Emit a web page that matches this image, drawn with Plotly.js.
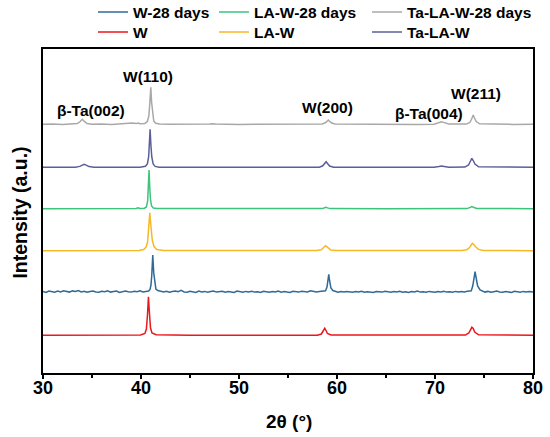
<!DOCTYPE html>
<html>
<head>
<meta charset="utf-8">
<script src="https://cdn.plot.ly/plotly-3.0.1.min.js"></script>
<style>
html, body { margin: 0; padding: 0; background: #fff; }
#chart { width: 550px; height: 437px; }
</style>
</head>
<body>
<div id="chart"></div>
<script>
// ---- Data (2θ in degrees, intensity in a.u., curves stacked) ----
const seriesNames = ["W-28 days", "LA-W-28 days", "Ta-LA-W-28 days", "W", "LA-W", "Ta-LA-W"];
const seriesColors = ["#2f6a98", "#3cc47b", "#a8a8a8", "#e8181e", "#f7b825", "#5c5e98"];

// W-28 days (noisy)
const xW28 = [30.0, 30.3, 30.6, 30.9, 31.2, 31.5, 31.8, 32.1, 32.4, 32.7, 33.0, 33.3, 33.6, 33.9, 34.2, 34.5, 34.8, 35.1, 35.4, 35.7,
  36.0, 36.3, 36.6, 36.9, 37.2, 37.5, 37.8, 38.1, 38.4, 38.7, 39.0, 39.3, 39.6, 39.9, 40.2, 40.5,
  40.78, 40.92, 41.02, 41.1, 41.2, 41.3, 41.4, 41.52, 41.72, 42.0,
  42.3, 42.6, 42.9, 43.2, 43.5, 43.8, 44.1, 44.4, 44.7, 45.0, 45.3, 45.6, 45.9, 46.2, 46.5, 46.8, 47.1, 47.4, 47.7, 48.0,
  48.3, 48.6, 48.9, 49.2, 49.5, 49.8, 50.1, 50.4, 50.7, 51.0, 51.3, 51.6, 51.9, 52.2, 52.5, 52.8, 53.1, 53.4, 53.7, 54.0,
  54.3, 54.6, 54.9, 55.2, 55.5, 55.8, 56.1, 56.4, 56.7, 57.0, 57.3, 57.6, 57.9, 58.2, 58.5,
  58.83, 58.98, 59.08, 59.16, 59.25, 59.38, 59.58, 59.85,
  60.1, 60.4, 60.7, 61.0, 61.3, 61.6, 61.9, 62.2, 62.5, 62.8, 63.1, 63.4, 63.7, 64.0, 64.3, 64.6, 64.9, 65.2, 65.5, 65.8,
  66.1, 66.4, 66.7, 67.0, 67.3, 67.6, 67.9, 68.2, 68.5, 68.8, 69.1, 69.4, 69.7, 70.0, 70.3, 70.6, 70.9, 71.2, 71.5, 71.8,
  72.1, 72.4, 72.7, 73.0, 73.3,
  73.7, 73.85, 73.95, 74.09, 74.2, 74.35, 74.6, 74.9,
  75.1, 75.4, 75.7, 76.0, 76.3, 76.6, 76.9, 77.2, 77.5, 77.8, 78.1, 78.4, 78.7, 79.0, 79.3, 79.6, 80.0];
const yW28 = [81.5, 80.6, 82.0, 81.2, 80.8, 81.9, 81.0, 82.3, 81.4, 80.9, 82.1, 81.6, 82.4, 81.0, 81.8, 80.7, 81.5, 82.0, 81.1, 80.8,
  81.7, 81.3, 82.2, 80.9, 81.4, 81.9, 80.6, 81.6, 82.0, 81.2, 80.9, 81.8, 81.3, 82.1, 81.0, 81.5,
  82.0, 83.5, 88.0, 98.0, 118.0, 100.0, 89.0, 84.0, 82.5, 81.6,
  81.0, 81.8, 80.7, 81.5, 82.0, 81.2, 82.6, 81.1, 80.8, 81.7, 81.3, 80.6, 81.9, 81.0, 81.6, 80.8, 81.4, 82.0, 80.9, 81.3,
  81.8, 80.7, 81.5, 81.1, 80.6, 81.9, 81.2, 80.8, 81.6, 81.0, 81.7, 80.9, 81.3, 80.6, 81.8, 81.1, 80.7, 81.5, 81.0, 81.9,
  80.8, 81.4, 81.1, 80.6, 81.7, 81.2, 80.9, 81.8, 81.3, 81.0, 82.3, 81.2, 80.9, 81.5, 81.7,
  82.2, 86.0, 92.0, 98.7, 92.0, 85.0, 82.5, 81.4,
  80.8, 81.4, 80.9, 81.6, 81.1, 80.7, 81.5, 81.0, 81.8, 80.8, 81.3, 81.0, 80.6, 81.5, 81.2, 80.9, 81.7, 81.0, 80.7, 81.4,
  81.1, 81.8, 80.8, 81.3, 80.6, 81.5, 81.0, 81.9, 80.9, 81.2, 80.7, 81.6, 81.1, 80.8, 81.5, 81.0, 81.7, 80.9, 81.3, 80.8,
  81.6, 81.0, 81.4, 81.1, 81.8,
  82.3, 87.0, 94.0, 101.3, 95.0, 87.0, 83.0, 81.5,
  80.9, 81.6, 80.7, 81.3, 81.9, 81.0, 80.8, 81.5, 81.1, 80.6, 81.7, 81.2, 80.8, 81.6, 80.9, 81.4, 81.0];

// LA-W-28 days
const xLAW28 = [30, 36, 39.5, 39.7, 39.9, 40.35, 40.55, 40.68, 40.76, 40.82, 40.89, 40.96, 41.08, 41.26, 41.66, 48, 55,
  58.5, 58.74, 58.89, 59.04, 59.3, 65, 73.25, 73.6, 73.76, 73.92, 74.25, 80];
const yLAW28 = [164.3, 164.3, 164.5, 165.2, 164.6, 164.8, 166, 172, 185, 203, 186, 174, 167, 165, 164.4, 164.3, 164.3,
  164.4, 165.2, 165.7, 165.1, 164.4, 164.3, 164.4, 165.6, 166.5, 165.8, 164.5, 164.3];

// Ta-LA-W-28 days
const xTaLAW28 = [30, 31.0, 32.0, 33.0, 33.5, 33.8, 34.0, 34.2, 34.5, 35.0, 36.0, 37.0, 38.0, 38.6, 38.8, 39.1, 39.5, 39.7, 39.9, 40.4,
  40.65, 40.8, 40.9, 41.0, 41.08, 41.18, 41.3, 41.5, 41.9, 43, 45, 47, 47.3, 47.6, 50, 53, 56, 58.5, 58.85, 59.0,
  59.12, 59.24, 59.45, 59.8, 62, 65, 68, 69.9, 70.35, 70.66, 70.95, 71.4, 73.2, 73.55, 73.74, 73.9, 74.03, 74.2, 74.55, 76, 78, 80];
const yTaLAW28 = [248.7, 249.0, 248.5, 248.9, 249.4, 251.5, 253.7, 251.8, 249.5, 248.8, 249.1, 248.6, 249.0, 249.8, 249.3, 249.9, 249.4, 250.0, 249.2, 249.6,
  251.5, 257, 270, 285.7, 271, 258, 252, 249.7, 249.0, 248.8, 248.6, 249.0, 249.3, 248.9, 248.6, 248.9, 248.7, 249.0, 250.5, 252,
  253, 251.8, 250, 249.0, 248.7, 248.9, 248.6, 248.8, 250.3, 251.3, 250.4, 249.0, 248.9, 250.5, 254, 258, 255, 251.5, 249.2, 248.8, 248.6, 248.7];

// W
const xW = [30, 36, 39.95, 40.4, 40.55, 40.66, 40.76, 40.86, 40.97, 41.12, 41.55, 45, 50, 55, 58.0, 58.4, 58.58, 58.75, 58.88, 59.02, 59.4,
  65, 70, 73.1, 73.45, 73.6, 73.76, 73.9, 74.05, 74.45, 80];
const yW = [37.7, 37.7, 38.0, 39.5, 44, 58, 76.3, 60, 45, 40, 38.2, 37.7, 37.7, 37.7, 37.8, 39, 42, 44.7, 42.5, 39.5, 38,
  37.7, 37.7, 37.9, 40, 43, 45.7, 44.5, 41, 38.2, 37.7];

// LA-W
const xLAW = [30, 36, 39.8, 40.27, 40.52, 40.67, 40.79, 40.9, 41.02, 41.15, 41.32, 41.62, 42.3, 50,
  57.9, 58.4, 58.57, 58.72, 58.82, 58.95, 59.12, 59.37, 59.85, 66,
  72.75, 73.25, 73.5, 73.68, 73.82, 73.96, 74.15, 74.45, 74.95, 80];
const yLAW = [122.3, 122.3, 122.5, 123.5, 126, 131, 145, 160.3, 146, 133, 126.5, 123.5, 122.6, 122.3,
  122.4, 123.2, 124.5, 126.3, 127.3, 126.4, 124.6, 123.0, 122.4, 122.3,
  122.4, 123.3, 125.2, 127.8, 129.7, 128.5, 126, 123.6, 122.5, 122.3];

// Ta-LA-W
const xTaLAW = [30, 33.3, 33.75, 34.0, 34.2, 34.4, 34.7, 35.2, 39.9, 40.45, 40.65, 40.78, 40.86, 40.93, 41.01, 41.1, 41.24, 41.45, 41.85, 50,
  58.2, 58.55, 58.74, 58.89, 59.03, 59.25, 59.65, 69.9, 70.4, 70.66, 70.95, 71.4, 73.05, 73.42, 73.6, 73.76, 73.9, 74.08, 74.45, 80];
const yTaLAW = [205.7, 205.8, 206.6, 208.0, 208.7, 207.9, 206.4, 205.8, 205.8, 206.8, 209, 216, 228, 243.7, 228, 216, 209, 206.6, 205.8, 205.7,
  205.8, 207.2, 209.6, 211.3, 209.5, 207, 205.8, 205.7, 206.5, 207, 206.5, 205.7, 205.9, 208, 211.5, 214.7, 212.5, 209, 206.2, 205.7];

// Peak labels
const peakLabels = ["β-Ta(002)", "W(110)", "W(200)", "β-Ta(004)", "W(211)"];
const peakLabelX = [34.9, 40.71, 59.03, 69.34, 74.18];
const peakLabelY = [263, 297, 265.5, 260, 279.7];

const xTickVals = [30, 40, 50, 60, 70, 80];
const xTickText = ["30", "40", "50", "60", "70", "80"];
const xTitle = "2θ (°)";
const yTitle = "Intensity (a.u.)";

// ---- Build figure ----
const FONT = "'Liberation Sans', Arial, sans-serif";
const xs = [xW28, xLAW28, xTaLAW28, xW, xLAW, xTaLAW];
const ys = [yW28, yLAW28, yTaLAW28, yW, yLAW, yTaLAW];
const legendIds = ["legend", "legend2", "legend3", "legend4", "legend5", "legend6"];

const traces = seriesNames.map((n, i) => ({
  type: "scatter", mode: "lines", name: n,
  x: xs[i], y: ys[i],
  line: { color: seriesColors[i], width: 1.5 },
  legend: legendIds[i], showlegend: true
}));

// legend placement (pixels in the 550x437 container)
const legX = [93, 214, 367, 93, 214, 367];
const legY = [12.5, 12.5, 12.5, 32.5, 32.5, 32.5];

const annotations = peakLabels.map((t, i) => ({
  text: t, x: peakLabelX[i], y: peakLabelY[i], xref: "x", yref: "y",
  showarrow: false, xanchor: "center", yanchor: "middle",
  font: { family: FONT, size: 15.5, weight: "bold", color: "#000" }
}));
annotations.push({
  text: yTitle, textangle: -90, xref: "paper", yref: "paper",
  x: -0.047, y: 0.495, xanchor: "center", yanchor: "middle", showarrow: false,
  font: { family: FONT, size: 19.5, weight: "bold", color: "#000" }
});
annotations.push({
  text: xTitle, xref: "paper", yref: "paper",
  x: 0.502, y: -0.150, xanchor: "center", yanchor: "middle", showarrow: false,
  font: { family: FONT, size: 19, weight: "bold", color: "#000" }
});

const layout = {
  width: 550, height: 437,
  margin: { l: 43, r: 17, t: 49, b: 64, autoexpand: false },
  paper_bgcolor: "#ffffff", plot_bgcolor: "#ffffff",
  font: { family: FONT, color: "#000" },
  showlegend: true,
  xaxis: {
    range: [30, 80], tickvals: xTickVals, ticktext: xTickText,
    ticks: "outside", ticklen: 4, tickwidth: 1.5, tickcolor: "#000",
    ticklabelstandoff: -7,
    minor: { dtick: 5, tick0: 30, ticks: "outside", ticklen: 2.5, tickwidth: 1.2, tickcolor: "#000" },
    showline: true, linewidth: 2, linecolor: "#000", mirror: true,
    showgrid: false, zeroline: false,
    tickfont: { family: FONT, size: 18, weight: "bold", color: "#000" },
    automargin: false
  },
  yaxis: {
    range: [0, 324], showticklabels: false, ticks: "",
    showline: true, linewidth: 2, linecolor: "#000", mirror: true,
    showgrid: false, zeroline: false,
    automargin: false
  },
  annotations: annotations
};

legendIds.forEach((id, i) => {
  layout[id] = {
    x: legX[i] / 550, y: 1 - legY[i] / 437,
    xref: "container", yref: "container",
    xanchor: "left", yanchor: "middle",
    orientation: "v", bgcolor: "rgba(0,0,0,0)", borderwidth: 0,
    font: { family: FONT, size: 15.5, weight: "bold", color: "#000" },
    itemwidth: 30
  };
});

Plotly.newPlot("chart", traces, layout, { displayModeBar: false, staticPlot: true });
</script>
</body>
</html>
